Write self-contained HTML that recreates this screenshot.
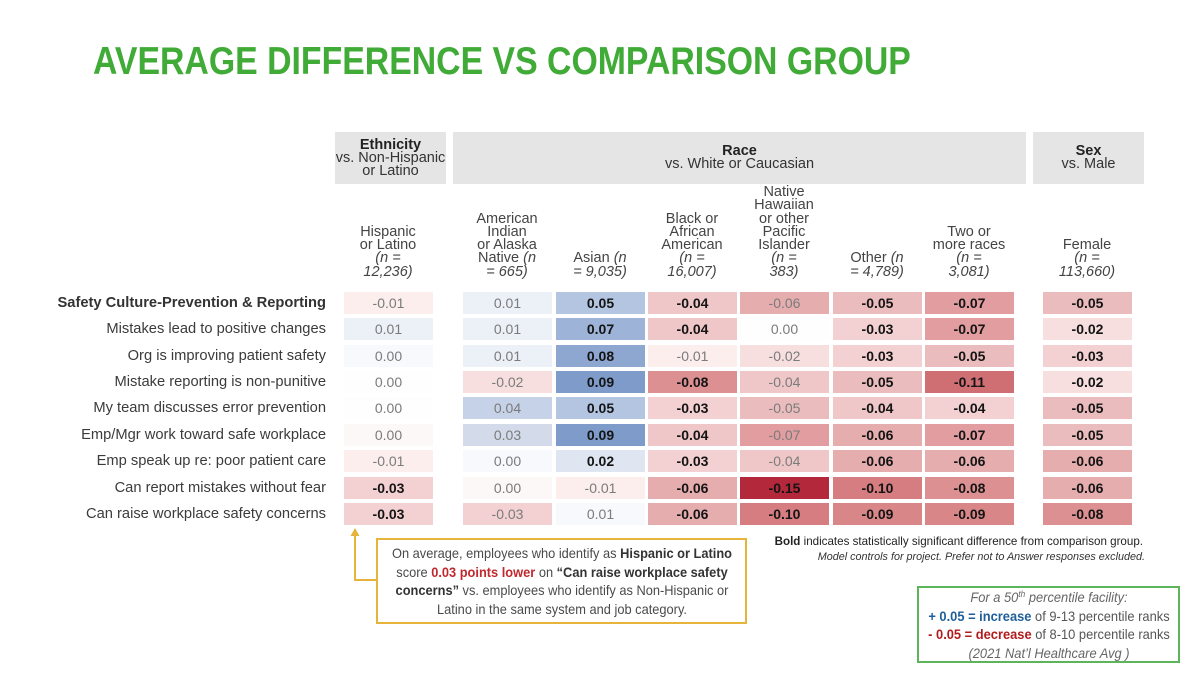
<!DOCTYPE html>
<html><head><meta charset="utf-8">
<style>
*{margin:0;padding:0;box-sizing:border-box}
body{width:1200px;height:676px;background:#fff;overflow:hidden;font-family:"Liberation Sans",Arial,sans-serif}
#w{position:relative;width:1200px;height:676px}
.t{position:absolute;left:93px;top:37px;font-size:39px;font-weight:bold;color:#40ab36;white-space:nowrap;transform:scaleX(0.867);transform-origin:left top;line-height:50px}
.g{position:absolute;top:132px;height:52px;background:#e5e5e5;display:flex;align-items:center;justify-content:center;text-align:center;font-size:14.5px;line-height:13px;color:#333}
.g b{color:#222}
.h{position:absolute;bottom:397px;width:120px;margin-left:-60px;text-align:center;font-size:14.5px;line-height:13.3px;color:#444}
.h i{color:#444}
.rl{position:absolute;right:874px;width:320px;text-align:right;font-size:14.7px;line-height:22px;color:#3b3b3b;white-space:nowrap}
.c{position:absolute;width:89px;height:22px;line-height:22px;text-align:center;font-size:14px;color:#7b7b7b}
.b{font-weight:bold;color:#141414}
.c0{left:344px}.c1{left:463px}.c2{left:556px}.c3{left:648px}.c4{left:740px}.c5{left:833px}.c6{left:925px}.c7{left:1043px}
.r0{top:292px}.r1{top:318px}.r2{top:345px}.r3{top:371px}.r4{top:397px}.r5{top:424px}.r6{top:450px}.r7{top:477px}.r8{top:503px}
.n0{background:#fcf8f8}.n1{background:#fbeeed}.n2{background:#f7dfdf}.n3{background:#f3d1d2}.n4{background:#efc7c8}.n5{background:#ebbcbd}.n6{background:#e6adaf}.n7{background:#e19d9f}.n8{background:#dc9092}.n9{background:#d98688}.n10{background:#d57d80}.n11{background:#cf6f73}.n15{background:#b3283b}
.p0{background:#f8f9fc}.p1{background:#ecf0f7}.p2{background:#dfe5f1}.p3{background:#d3dbeb}.p4{background:#c6d2e7}.p5{background:#b4c5e1}.p7{background:#9db3d7}.p8{background:#8ea7d0}.p9{background:#7e9bca}
.w0{background:#fefefe}
.ann{position:absolute;left:376px;top:538px;width:371px;height:86px;border:2px solid #e6b43a}
.annt{position:absolute;left:50%;width:420px;margin-left:-210px;top:4px;text-align:center;font-size:14px;line-height:18.7px;color:#4a4a4a;transform:scaleX(0.916);white-space:nowrap}
.annt b{color:#333}
.annt .rd{color:#c0282d}
.note1{position:absolute;right:57px;top:534px;font-size:11.6px;line-height:15px;color:#222;white-space:nowrap}
.note2{position:absolute;right:55px;top:550px;font-size:10.8px;line-height:15px;color:#333;font-style:italic;white-space:nowrap}
.gb{position:absolute;left:917px;top:586px;width:263px;height:77px;border:2px solid #5db55a}
.gbt{position:absolute;left:50%;width:300px;margin-left:-150px;top:0;text-align:center;font-size:14px;line-height:18.5px;color:#555;transform:scaleX(0.92);white-space:nowrap}
.gbt .bl{color:#1f5f99;font-weight:bold}
.gbt .rd{color:#b01c1c;font-weight:bold}
.gbt i{color:#666}
.sp{font-size:9px;position:relative;top:-5px;line-height:0}
</style></head>
<body><div id="w">
<div class="t">AVERAGE DIFFERENCE VS COMPARISON GROUP</div>

<div class="g" style="left:335px;width:111px"><div><b>Ethnicity</b><br>vs. Non-Hispanic<br>or Latino</div></div>
<div class="g" style="left:453px;width:573px"><div><b>Race</b><br>vs. White or Caucasian</div></div>
<div class="g" style="left:1033px;width:111px"><div><b>Sex</b><br>vs. Male</div></div>

<div class="h" style="left:388px">Hispanic<br>or Latino<br><i>(n =</i><br><i>12,236)</i></div>
<div class="h" style="left:507px">American<br>Indian<br>or Alaska<br>Native <i>(n</i><br><i>= 665)</i></div>
<div class="h" style="left:600px">Asian <i>(n</i><br><i>= 9,035)</i></div>
<div class="h" style="left:692px">Black or<br>African<br>American<br><i>(n =</i><br><i>16,007)</i></div>
<div class="h" style="left:784px">Native<br>Hawaiian<br>or other<br>Pacific<br>Islander<br><i>(n =</i><br><i>383)</i></div>
<div class="h" style="left:877px">Other <i>(n</i><br><i>= 4,789)</i></div>
<div class="h" style="left:969px">Two or<br>more races<br><i>(n =</i><br><i>3,081)</i></div>
<div class="h" style="left:1087px">Female<br><i>(n =</i><br><i>113,660)</i></div>

<div class="rl r0" style="font-weight:bold;color:#333">Safety Culture-Prevention &amp; Reporting</div>
<div class="rl r1">Mistakes lead to positive changes</div>
<div class="rl r2">Org is improving patient safety</div>
<div class="rl r3">Mistake reporting is non-punitive</div>
<div class="rl r4">My team discusses error prevention</div>
<div class="rl r5">Emp/Mgr work toward safe workplace</div>
<div class="rl r6">Emp speak up re: poor patient care</div>
<div class="rl r7">Can report mistakes without fear</div>
<div class="rl r8">Can raise workplace safety concerns</div>

<div class="c c0 r0 n1">-0.01</div><div class="c c1 r0 p1">0.01</div><div class="c c2 r0 p5 b">0.05</div><div class="c c3 r0 n4 b">-0.04</div><div class="c c4 r0 n6">-0.06</div><div class="c c5 r0 n5 b">-0.05</div><div class="c c6 r0 n7 b">-0.07</div><div class="c c7 r0 n5 b">-0.05</div>
<div class="c c0 r1 p1">0.01</div><div class="c c1 r1 p1">0.01</div><div class="c c2 r1 p7 b">0.07</div><div class="c c3 r1 n4 b">-0.04</div><div class="c c4 r1 w0">0.00</div><div class="c c5 r1 n3 b">-0.03</div><div class="c c6 r1 n7 b">-0.07</div><div class="c c7 r1 n2 b">-0.02</div>
<div class="c c0 r2 p0">0.00</div><div class="c c1 r2 p1">0.01</div><div class="c c2 r2 p8 b">0.08</div><div class="c c3 r2 n1">-0.01</div><div class="c c4 r2 n2">-0.02</div><div class="c c5 r2 n3 b">-0.03</div><div class="c c6 r2 n5 b">-0.05</div><div class="c c7 r2 n3 b">-0.03</div>
<div class="c c0 r3 w0">0.00</div><div class="c c1 r3 n2">-0.02</div><div class="c c2 r3 p9 b">0.09</div><div class="c c3 r3 n8 b">-0.08</div><div class="c c4 r3 n4">-0.04</div><div class="c c5 r3 n5 b">-0.05</div><div class="c c6 r3 n11 b">-0.11</div><div class="c c7 r3 n2 b">-0.02</div>
<div class="c c0 r4 w0">0.00</div><div class="c c1 r4 p4">0.04</div><div class="c c2 r4 p5 b">0.05</div><div class="c c3 r4 n3 b">-0.03</div><div class="c c4 r4 n5">-0.05</div><div class="c c5 r4 n4 b">-0.04</div><div class="c c6 r4 n3 b">-0.04</div><div class="c c7 r4 n5 b">-0.05</div>
<div class="c c0 r5 n0">0.00</div><div class="c c1 r5 p3">0.03</div><div class="c c2 r5 p9 b">0.09</div><div class="c c3 r5 n4 b">-0.04</div><div class="c c4 r5 n7">-0.07</div><div class="c c5 r5 n6 b">-0.06</div><div class="c c6 r5 n7 b">-0.07</div><div class="c c7 r5 n5 b">-0.05</div>
<div class="c c0 r6 n1">-0.01</div><div class="c c1 r6 p0">0.00</div><div class="c c2 r6 p2 b">0.02</div><div class="c c3 r6 n3 b">-0.03</div><div class="c c4 r6 n4">-0.04</div><div class="c c5 r6 n6 b">-0.06</div><div class="c c6 r6 n6 b">-0.06</div><div class="c c7 r6 n6 b">-0.06</div>
<div class="c c0 r7 n3 b">-0.03</div><div class="c c1 r7 n0">0.00</div><div class="c c2 r7 n1">-0.01</div><div class="c c3 r7 n6 b">-0.06</div><div class="c c4 r7 n15 b">-0.15</div><div class="c c5 r7 n10 b">-0.10</div><div class="c c6 r7 n8 b">-0.08</div><div class="c c7 r7 n6 b">-0.06</div>
<div class="c c0 r8 n3 b">-0.03</div><div class="c c1 r8 n3">-0.03</div><div class="c c2 r8 p0">0.01</div><div class="c c3 r8 n6 b">-0.06</div><div class="c c4 r8 n10 b">-0.10</div><div class="c c5 r8 n9 b">-0.09</div><div class="c c6 r8 n9 b">-0.09</div><div class="c c7 r8 n8 b">-0.08</div>

<svg style="position:absolute;left:0;top:0" width="1200" height="676">
<polyline points="355,534 355,580 377,580" fill="none" stroke="#e6b43a" stroke-width="2"/>
<polygon points="350.5,536 359.5,536 355,528" fill="#e6b43a"/>
</svg>

<div class="ann"><div class="annt">On average, employees who identify as <b>Hispanic or Latino</b><br>score <b class="rd">0.03 points lower</b> on <b>“Can raise workplace safety</b><br><b>concerns”</b> vs. employees who identify as Non-Hispanic or<br>Latino in the same system and job category.</div></div>

<div class="note1"><b>Bold</b> indicates statistically significant difference from comparison group.</div>
<div class="note2">Model controls for project. Prefer not to Answer responses excluded.</div>

<div class="gb"><div class="gbt"><i>For a 50<span class="sp">th</span> percentile facility:</i><br><span class="bl">+ 0.05 = increase</span> of 9-13 percentile ranks<br><span class="rd">- 0.05 = decrease</span> of 8-10 percentile ranks<br><i>(2021 Nat’l Healthcare Avg )</i></div></div>
</div></body></html>
